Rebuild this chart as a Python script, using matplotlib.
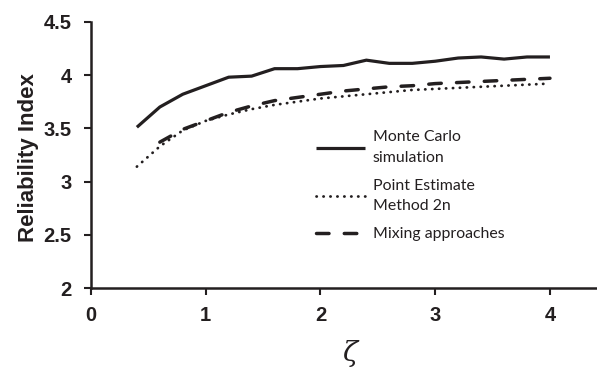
import matplotlib.pyplot as plt

# data
zeta = [0.4, 0.6, 0.8, 1.0, 1.2, 1.4, 1.6, 1.8, 2.0, 2.2,
        2.4, 2.6, 2.8, 3.0, 3.2, 3.4, 3.6, 3.8, 4.0]
monte_carlo = [3.51, 3.70, 3.82, 3.90, 3.98, 3.99, 4.06, 4.06, 4.08, 4.09,
               4.14, 4.11, 4.11, 4.13, 4.16, 4.17, 4.15, 4.17, 4.17]
pem_2n = [3.14, 3.33, 3.48, 3.57, 3.63, 3.68, 3.72, 3.75, 3.78, 3.80,
          3.82, 3.84, 3.86, 3.87, 3.88, 3.89, 3.90, 3.91, 3.92]
zeta_mix = zeta[1:]
mixing = [3.37, 3.49, 3.57, 3.65, 3.71, 3.76, 3.79, 3.82, 3.85,
          3.87, 3.89, 3.90, 3.92, 3.93, 3.94, 3.95, 3.96, 3.97]

x_ticks = [0, 1, 2, 3, 4]
y_ticks = [2, 2.5, 3, 3.5, 4, 4.5]
y_labels = ['2', '2.5', '3', '3.5', '4', '4.5']

ink = '#231f20'

fig = plt.figure(figsize=(5.97, 3.70), dpi=100)
ax = fig.add_axes([0.1524, 0.2216, 0.8476, 0.7194])

ax.plot(zeta, monte_carlo, color=ink, linewidth=2.3, solid_capstyle='butt',
        solid_joinstyle='round', label='Monte Carlo\nsimulation')
ax.plot(zeta, pem_2n, color=ink, linewidth=2.0, linestyle=(0, (0.1, 2.4)),
        dash_capstyle='round', label='Point Estimate\nMethod 2n')
ax.plot(zeta_mix, mixing, color=ink, linewidth=2.5, linestyle=(0, (3.6, 4.4)),
        dash_capstyle='round', label='Mixing approaches')

ax.set_xlim(0, 4.41)
ax.set_ylim(2, 4.5)
ax.set_xticks(x_ticks)
ax.set_yticks(y_ticks)
ax.set_yticklabels(y_labels)

for s in ['top', 'right']:
    ax.spines[s].set_visible(False)
for s in ['left', 'bottom']:
    ax.spines[s].set_linewidth(1.8)
    ax.spines[s].set_color(ink)
ax.tick_params(direction='out', length=5, width=1.5, color=ink)
for lab in ax.get_xticklabels() + ax.get_yticklabels():
    lab.set_fontfamily('Liberation Sans')
    lab.set_fontweight('bold')
    lab.set_fontsize(14.5)
    lab.set_color(ink)
ax.tick_params(axis='x', pad=8)
ax.tick_params(axis='y', pad=9)

ax.set_ylabel('Reliability Index', fontfamily='Liberation Sans', fontweight='bold',
              fontsize=16, color=ink)
ax.yaxis.set_label_coords(-0.102, 0.49)
ax.set_xlabel('ζ', fontfamily='DejaVu Serif', fontstyle='italic', fontsize=20,
              color=ink)
ax.xaxis.set_label_coords(0.512, -0.195)

leg = ax.legend(loc='upper left', bbox_to_anchor=(310 / 597, 1 - 124 / 370),
                bbox_transform=fig.transFigure, frameon=False,
                prop={'family': 'Lato', 'size': 11.4},
                handlelength=3.1, handletextpad=0.45, labelspacing=0.87,
                borderaxespad=0)
for t in leg.get_texts():
    t.set_color(ink)
    t.set_linespacing(1.6)

fig.savefig('out.png', dpi=100)
